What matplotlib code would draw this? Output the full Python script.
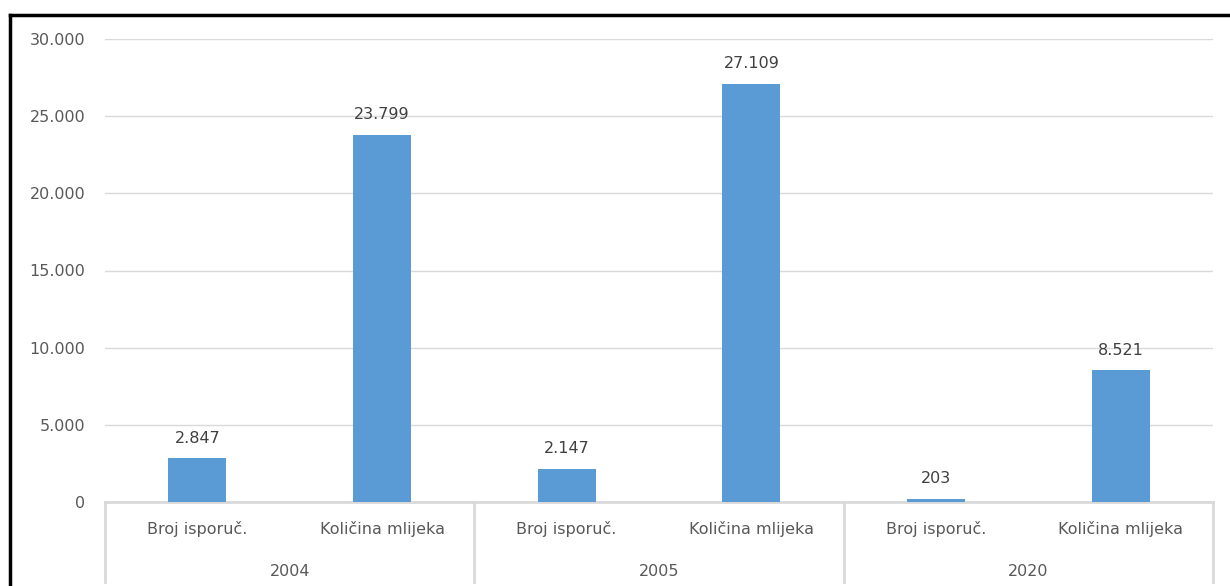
import matplotlib
matplotlib.use("Agg")
import matplotlib.pyplot as plt
from matplotlib.lines import Line2D
from matplotlib.ticker import FuncFormatter

# data
years = ["2004", "2005", "2020"]
sub_labels = ["Broj isporuč.", "Količina mlijeka"]
values = [2847, 23799, 2147, 27109, 203, 8521]
y_ticks = [0, 5000, 10000, 15000, 20000, 25000, 30000]

BAR = "#5B9BD5"
GRID = "#D9D9D9"
TXT = "#595959"
FS = 11.5

plt.rcParams["font.family"] = ["DejaVu Sans"]


def dot_thousands(v, pos=None):
    return f"{int(round(v)):,}".replace(",", ".")


fig = plt.figure(figsize=(12.3, 5.86), dpi=100)
ax = fig.add_axes([105 / 1230, 1 - 502 / 586, 1108 / 1230, 463 / 586])

x = list(range(len(values)))
bars = ax.bar(x, values, width=0.315, color=BAR, zorder=3)
for b, v in zip(bars, values):
    ax.annotate(dot_thousands(v), (b.get_x() + b.get_width() / 2, v),
                xytext=(0, 9), textcoords="offset points",
                ha="center", va="bottom", fontsize=FS, color="#404040")

ax.set_xlim(-0.5, len(values) - 0.5)
ax.set_ylim(0, 30000)
ax.set_yticks(y_ticks)
ax.yaxis.set_major_formatter(FuncFormatter(dot_thousands))
ax.tick_params(axis="y", length=0, pad=14, labelsize=FS, labelcolor=TXT)
ax.set_xticks([])
ax.grid(axis="y", color=GRID, linewidth=1, zorder=0)
for s in ["top", "right", "left"]:
    ax.spines[s].set_visible(False)
ax.spines["bottom"].set_color(GRID)
ax.spines["bottom"].set_linewidth(2)

# two-level category axis
trans = ax.get_xaxis_transform()
for i, v in enumerate(values):
    ax.text(i, -27 / 463, sub_labels[i % 2], transform=trans, ha="center",
            va="center", fontsize=FS, color=TXT)
for g, yr in enumerate(years):
    ax.text(2 * g + 0.5, -69 / 463, yr, transform=trans, ha="center",
            va="center", fontsize=FS, color=TXT)
for g in range(len(years) + 1):
    ax.add_line(Line2D([2 * g - 0.5, 2 * g - 0.5], [0, -80 / 463],
                       transform=trans, color=GRID, linewidth=2, clip_on=False))

# black frame visible at the top and left edges only
fig.add_artist(Line2D([9.5 / 1230, 9.5 / 1230], [-0.01, 1 - 15 / 586],
                      transform=fig.transFigure, color="black", linewidth=2.5))
fig.add_artist(Line2D([9.5 / 1230, 1.01], [1 - 15 / 586, 1 - 15 / 586],
                      transform=fig.transFigure, color="black", linewidth=2.5))

fig.savefig("out.png", dpi=100, facecolor="white")
